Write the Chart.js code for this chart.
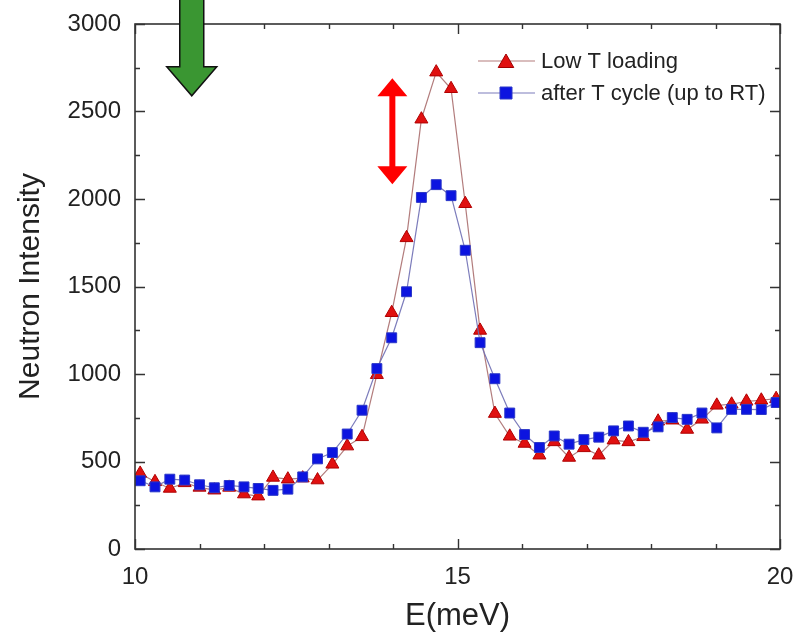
<!DOCTYPE html>
<html>
<head>
<meta charset="utf-8">
<script src="https://cdn.jsdelivr.net/npm/chart.js@4.4.1/dist/chart.umd.min.js"></script>
<style>
  html, body { margin: 0; padding: 0; background: #fff; }
  #wrap { width: 793px; height: 635px; position: relative; }
</style>
</head>
<body>
<div id="wrap"><canvas id="chart"></canvas></div>
<script>
// ==================== data ====================

// E (meV) of each measured point
const energy = [
  10.08, 10.31, 10.54, 10.77, 11.00, 11.23, 11.46, 11.69, 11.91, 12.14, 12.37,
  12.60, 12.83, 13.06, 13.29, 13.52, 13.75, 13.98, 14.21, 14.44, 14.67, 14.90,
  15.12, 15.35, 15.58, 15.81, 16.04, 16.27, 16.50, 16.73, 16.96, 17.19, 17.42,
  17.65, 17.88, 18.11, 18.33, 18.56, 18.79, 19.02, 19.25, 19.48, 19.71, 19.94,
];

// "Low T loading" (red triangles)
const lowTLoading = [
  432, 384, 346, 378, 352, 336, 352, 314, 302, 409, 399,
  405, 394, 484, 588, 641, 996, 1350, 1778, 2456, 2725, 2630,
  1973, 1249, 774, 644, 603, 536, 612, 523, 578, 536, 622,
  612, 641, 730, 736, 683, 741, 821, 827, 844, 850, 859,
];

// "after T cycle (up to RT)" (blue squares)
const afterTCycle = [
  390, 355, 399, 394, 367, 350, 363, 355, 346, 335, 342,
  412, 515, 551, 657, 793, 1031, 1207, 1470, 2009, 2082, 2019,
  1707, 1179, 973, 777, 654, 580, 646, 599, 625, 639, 675,
  703, 667, 698, 751, 741, 777, 692, 798, 798, 797, 837,
];

const seriesNames = ["Low T loading", "after T cycle (up to RT)"];

const xTicks = [10, 15, 20];
const xMinorTicks = [11, 12, 13, 14, 16, 17, 18, 19];
const yTicks = [0, 500, 1000, 1500, 2000, 2500, 3000];
const yMinorTicks = [250, 750, 1250, 1750, 2250, 2750];

// annotations: red double arrow (E, from, to), green arrow (E, tip)
const redArrow = { e: 13.99, from: 2085, to: 2690 };
const greenArrow = { e: 10.88, tip: 2590 };

// ==================== styles ====================

const FONT = "'Liberation Sans', Arial, sans-serif";
const TEXT = "#222";
const RED = "#e01010";
const BLUE = "#0c14e0";
const RED_LINE = "rgba(170,110,110,0.9)";
const BLUE_LINE = "rgba(110,110,180,0.9)";

// ==================== helpers ====================

function toPoints(ys) {
  return energy.map((e, i) => ({ x: e, y: ys[i] }));
}

function drawTriangle(ctx, x, y, r) {
  ctx.beginPath();
  for (let k = 0; k < 3; k++) {
    const a = k * 2 * Math.PI / 3;
    const px = x + Math.sin(a) * r;
    const py = y - Math.cos(a) * r;
    if (k === 0) ctx.moveTo(px, py); else ctx.lineTo(px, py);
  }
  ctx.closePath();
}

// vertical arrow polygon, heads where asked
function arrowPath(ctx, cx, y1, y2, shaftW, headW, headH, headTop, headBottom) {
  const s = shaftW / 2, h = headW / 2;
  ctx.beginPath();
  if (headTop) {
    ctx.moveTo(cx, y1);
    ctx.lineTo(cx + h, y1 + headH);
    ctx.lineTo(cx + s, y1 + headH);
  } else {
    ctx.moveTo(cx + s, y1);
  }
  if (headBottom) {
    ctx.lineTo(cx + s, y2 - headH);
    ctx.lineTo(cx + h, y2 - headH);
    ctx.lineTo(cx, y2);
    ctx.lineTo(cx - h, y2 - headH);
    ctx.lineTo(cx - s, y2 - headH);
  } else {
    ctx.lineTo(cx + s, y2);
    ctx.lineTo(cx - s, y2);
  }
  if (headTop) {
    ctx.lineTo(cx - s, y1 + headH);
    ctx.lineTo(cx - h, y1 + headH);
  } else {
    ctx.lineTo(cx - s, y1);
  }
  ctx.closePath();
}

// ==================== plugins ====================

// box frame with inward ticks on all four sides
const framePlugin = {
  id: "frame",
  afterDatasetsDraw(chart) {
    const { ctx, chartArea: a, scales } = chart;
    ctx.save();
    ctx.strokeStyle = "#333";
    ctx.lineWidth = 1.6;
    ctx.strokeRect(a.left, a.top, a.right - a.left, a.bottom - a.top);

    ctx.lineWidth = 1.4;
    ctx.beginPath();
    const xt = (vals, len) => vals.forEach((v) => {
      const px = Math.round(scales.x.getPixelForValue(v)) + 0.5;
      ctx.moveTo(px, a.bottom); ctx.lineTo(px, a.bottom - len);
      ctx.moveTo(px, a.top); ctx.lineTo(px, a.top + len);
    });
    const yt = (vals, len) => vals.forEach((v) => {
      const py = Math.round(scales.y.getPixelForValue(v)) + 0.5;
      ctx.moveTo(a.left, py); ctx.lineTo(a.left + len, py);
      ctx.moveTo(a.right, py); ctx.lineTo(a.right - len, py);
    });
    xt(xTicks, 10); xt(xMinorTicks, 5);
    yt(yTicks, 10); yt(yMinorTicks, 5);
    ctx.stroke();
    ctx.restore();
  },
};

// legend: line + marker + label, top right inside the frame
const legendPlugin = {
  id: "lineLegend",
  afterDraw(chart) {
    const { ctx } = chart;
    const rows = [
      { y: 61, line: RED_LINE, fill: RED, stroke: "#a00000", shape: "tri", label: seriesNames[0] },
      { y: 93, line: BLUE_LINE, fill: BLUE, stroke: "#2a36c8", shape: "sq", label: seriesNames[1] },
    ];
    ctx.save();
    for (const r of rows) {
      ctx.strokeStyle = r.line;
      ctx.lineWidth = 1.2;
      ctx.beginPath();
      ctx.moveTo(478, r.y); ctx.lineTo(535, r.y);
      ctx.stroke();
      ctx.fillStyle = r.fill;
      ctx.strokeStyle = r.stroke;
      ctx.lineWidth = 1;
      if (r.shape === "tri") {
        drawTriangle(ctx, 506, r.y + 2, 9);
      } else {
        ctx.beginPath();
        ctx.rect(500, r.y - 6, 12, 12);
      }
      ctx.fill(); ctx.stroke();
      ctx.fillStyle = TEXT;
      ctx.font = `22px ${FONT}`;
      ctx.textBaseline = "middle";
      ctx.textAlign = "left";
      ctx.fillText(r.label, 541, r.y + 1);
    }
    ctx.restore();
  },
};

// the two hand-drawn arrows of the figure
const arrowPlugin = {
  id: "arrows",
  afterDraw(chart) {
    const { ctx, scales } = chart;
    ctx.save();

    // green arrow pointing down, coming in from the top edge
    const gx = scales.x.getPixelForValue(greenArrow.e);
    const gTip = scales.y.getPixelForValue(greenArrow.tip);
    arrowPath(ctx, gx, -3, gTip, 24, 50, 29, false, true);
    ctx.fillStyle = "#3a9632";
    ctx.fill();
    ctx.strokeStyle = "#111";
    ctx.lineWidth = 1.5;
    ctx.stroke();

    // red double arrow: difference between the two peaks
    const rx = scales.x.getPixelForValue(redArrow.e);
    const rTop = scales.y.getPixelForValue(redArrow.to);
    const rBot = scales.y.getPixelForValue(redArrow.from);
    arrowPath(ctx, rx, rTop, rBot, 6, 30, 18, true, true);
    ctx.fillStyle = "#ff0000";
    ctx.fill();

    ctx.restore();
  },
};

// ==================== chart ====================

const canvas = document.getElementById("chart");

new Chart(canvas, {
  type: "scatter",
  data: {
    datasets: [
      {
        // drawn last (on top)
        label: seriesNames[1],
        data: toPoints(afterTCycle),
        showLine: true,
        borderColor: BLUE_LINE,
        borderWidth: 1.2,
        tension: 0,
        pointStyle: "rect",
        pointRadius: 7,
        pointBackgroundColor: BLUE,
        pointBorderColor: "#2a36c8",
        pointBorderWidth: 1,
      },
      {
        label: seriesNames[0],
        data: toPoints(lowTLoading),
        showLine: true,
        borderColor: RED_LINE,
        borderWidth: 1.2,
        tension: 0,
        pointStyle: "triangle",
        pointRadius: 7.5,
        pointBackgroundColor: RED,
        pointBorderColor: "#b00000",
        pointBorderWidth: 1,
      },
    ],
  },
  options: {
    responsive: true,
    maintainAspectRatio: false,
    animation: false,
    events: [],
    layout: { padding: { top: 24, right: 13, left: 0, bottom: 0 } },
    plugins: {
      legend: { display: false },
      tooltip: { enabled: false },
    },
    scales: {
      x: {
        type: "linear",
        min: 10,
        max: 20,
        afterBuildTicks: (s) => { s.ticks = xTicks.map((v) => ({ value: v })); },
        afterFit: (s) => { s.height = 86; s.paddingLeft = 0; s.paddingRight = 0; },
        grid: { display: false, drawTicks: false },
        border: { display: false },
        ticks: {
          color: TEXT,
          font: { family: FONT, size: 24 },
          padding: 14,
          maxRotation: 0,
          autoSkip: false,
          callback: (v) => String(v),
        },
        title: {
          display: true,
          text: "E(meV)",
          color: TEXT,
          font: { family: FONT, size: 31, lineHeight: 1 },
          padding: { top: 0, bottom: 3 },
        },
      },
      y: {
        type: "linear",
        min: 0,
        max: 3000,
        afterBuildTicks: (s) => { s.ticks = yTicks.map((v) => ({ value: v })); },
        afterFit: (s) => { s.width = 135; s.paddingTop = 0; s.paddingBottom = 0; },
        grid: { display: false, drawTicks: false },
        border: { display: false },
        ticks: {
          color: TEXT,
          font: { family: FONT, size: 24 },
          padding: 14,
          autoSkip: false,
          callback: (v) => String(v),
        },
        title: {
          display: true,
          text: "Neutron Intensity",
          color: TEXT,
          font: { family: FONT, size: 30, lineHeight: 1 },
          padding: { top: 16, bottom: 0 },
        },
      },
    },
  },
  plugins: [framePlugin, legendPlugin, arrowPlugin],
});
</script>
</body>
</html>
